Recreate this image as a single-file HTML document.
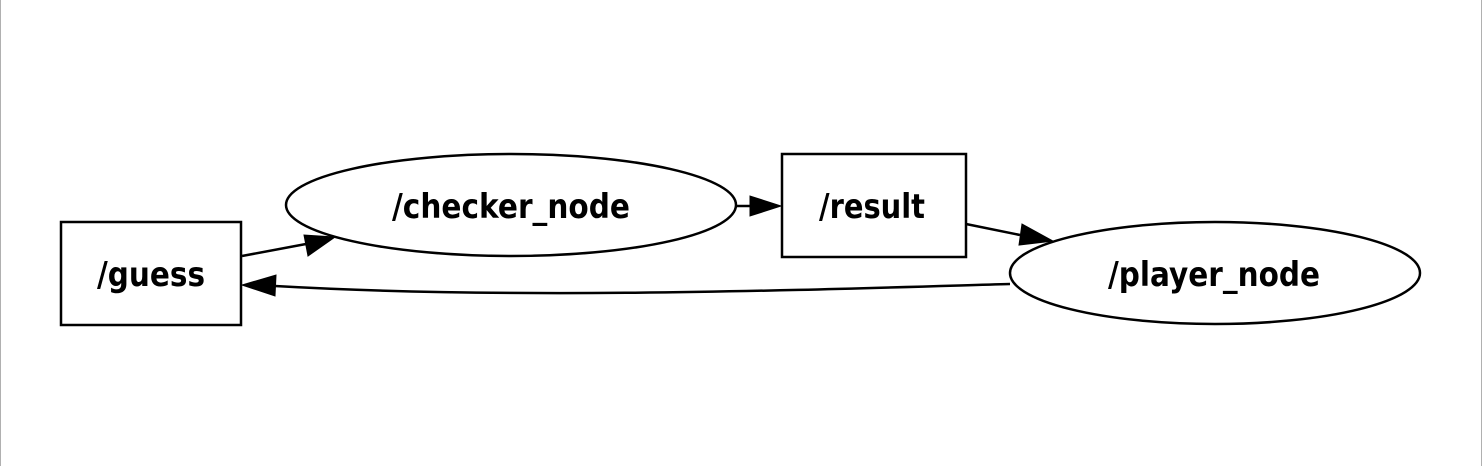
<!DOCTYPE html>
<html><head><style>
html,body{margin:0;padding:0;background:#fff;}
svg{display:block;}
text{font-family:"DejaVu Sans","Liberation Sans",sans-serif;font-weight:bold;font-size:34px;fill:#000;}
</style></head><body>
<svg width="1482" height="466" viewBox="0 0 1482 466" xmlns="http://www.w3.org/2000/svg">
<rect x="0" y="0" width="1482" height="466" fill="#fff"/>
<line x1="0.5" y1="0" x2="0.5" y2="466" stroke="#b0b0b0" stroke-width="1"/>
<line x1="1481.5" y1="0" x2="1481.5" y2="466" stroke="#b0b0b0" stroke-width="1"/>
<g fill="none" stroke="#000" stroke-width="2.5">
<rect x="61" y="222" width="180" height="103"/>
<ellipse cx="511" cy="205" rx="225" ry="51"/>
<rect x="782" y="154" width="184" height="103"/>
<ellipse cx="1215" cy="273" rx="205" ry="51"/>
<line x1="242" y1="256" x2="306" y2="244"/>
<line x1="737" y1="206" x2="751" y2="206"/>
<line x1="966" y1="224" x2="1020" y2="235"/>
<path d="M1010,284 C800,290 520,300 275,286"/>
</g>
<g fill="#000" stroke="#000" stroke-width="1">
<polygon points="304,235 308,256 335,237"/>
<polygon points="750,196 750,216 781,206"/>
<polygon points="1022,224 1019,245 1053,241"/>
<polygon points="276,275 275,296 242,285"/>
</g>
<text x="151" y="286" text-anchor="middle" textLength="108" lengthAdjust="spacingAndGlyphs">/guess</text>
<text x="511" y="218" text-anchor="middle" textLength="238" lengthAdjust="spacingAndGlyphs">/checker_node</text>
<text x="872" y="218" text-anchor="middle" textLength="106" lengthAdjust="spacingAndGlyphs">/result</text>
<text x="1214" y="286" text-anchor="middle" textLength="212" lengthAdjust="spacingAndGlyphs">/player_node</text>
</svg>
</body></html>
